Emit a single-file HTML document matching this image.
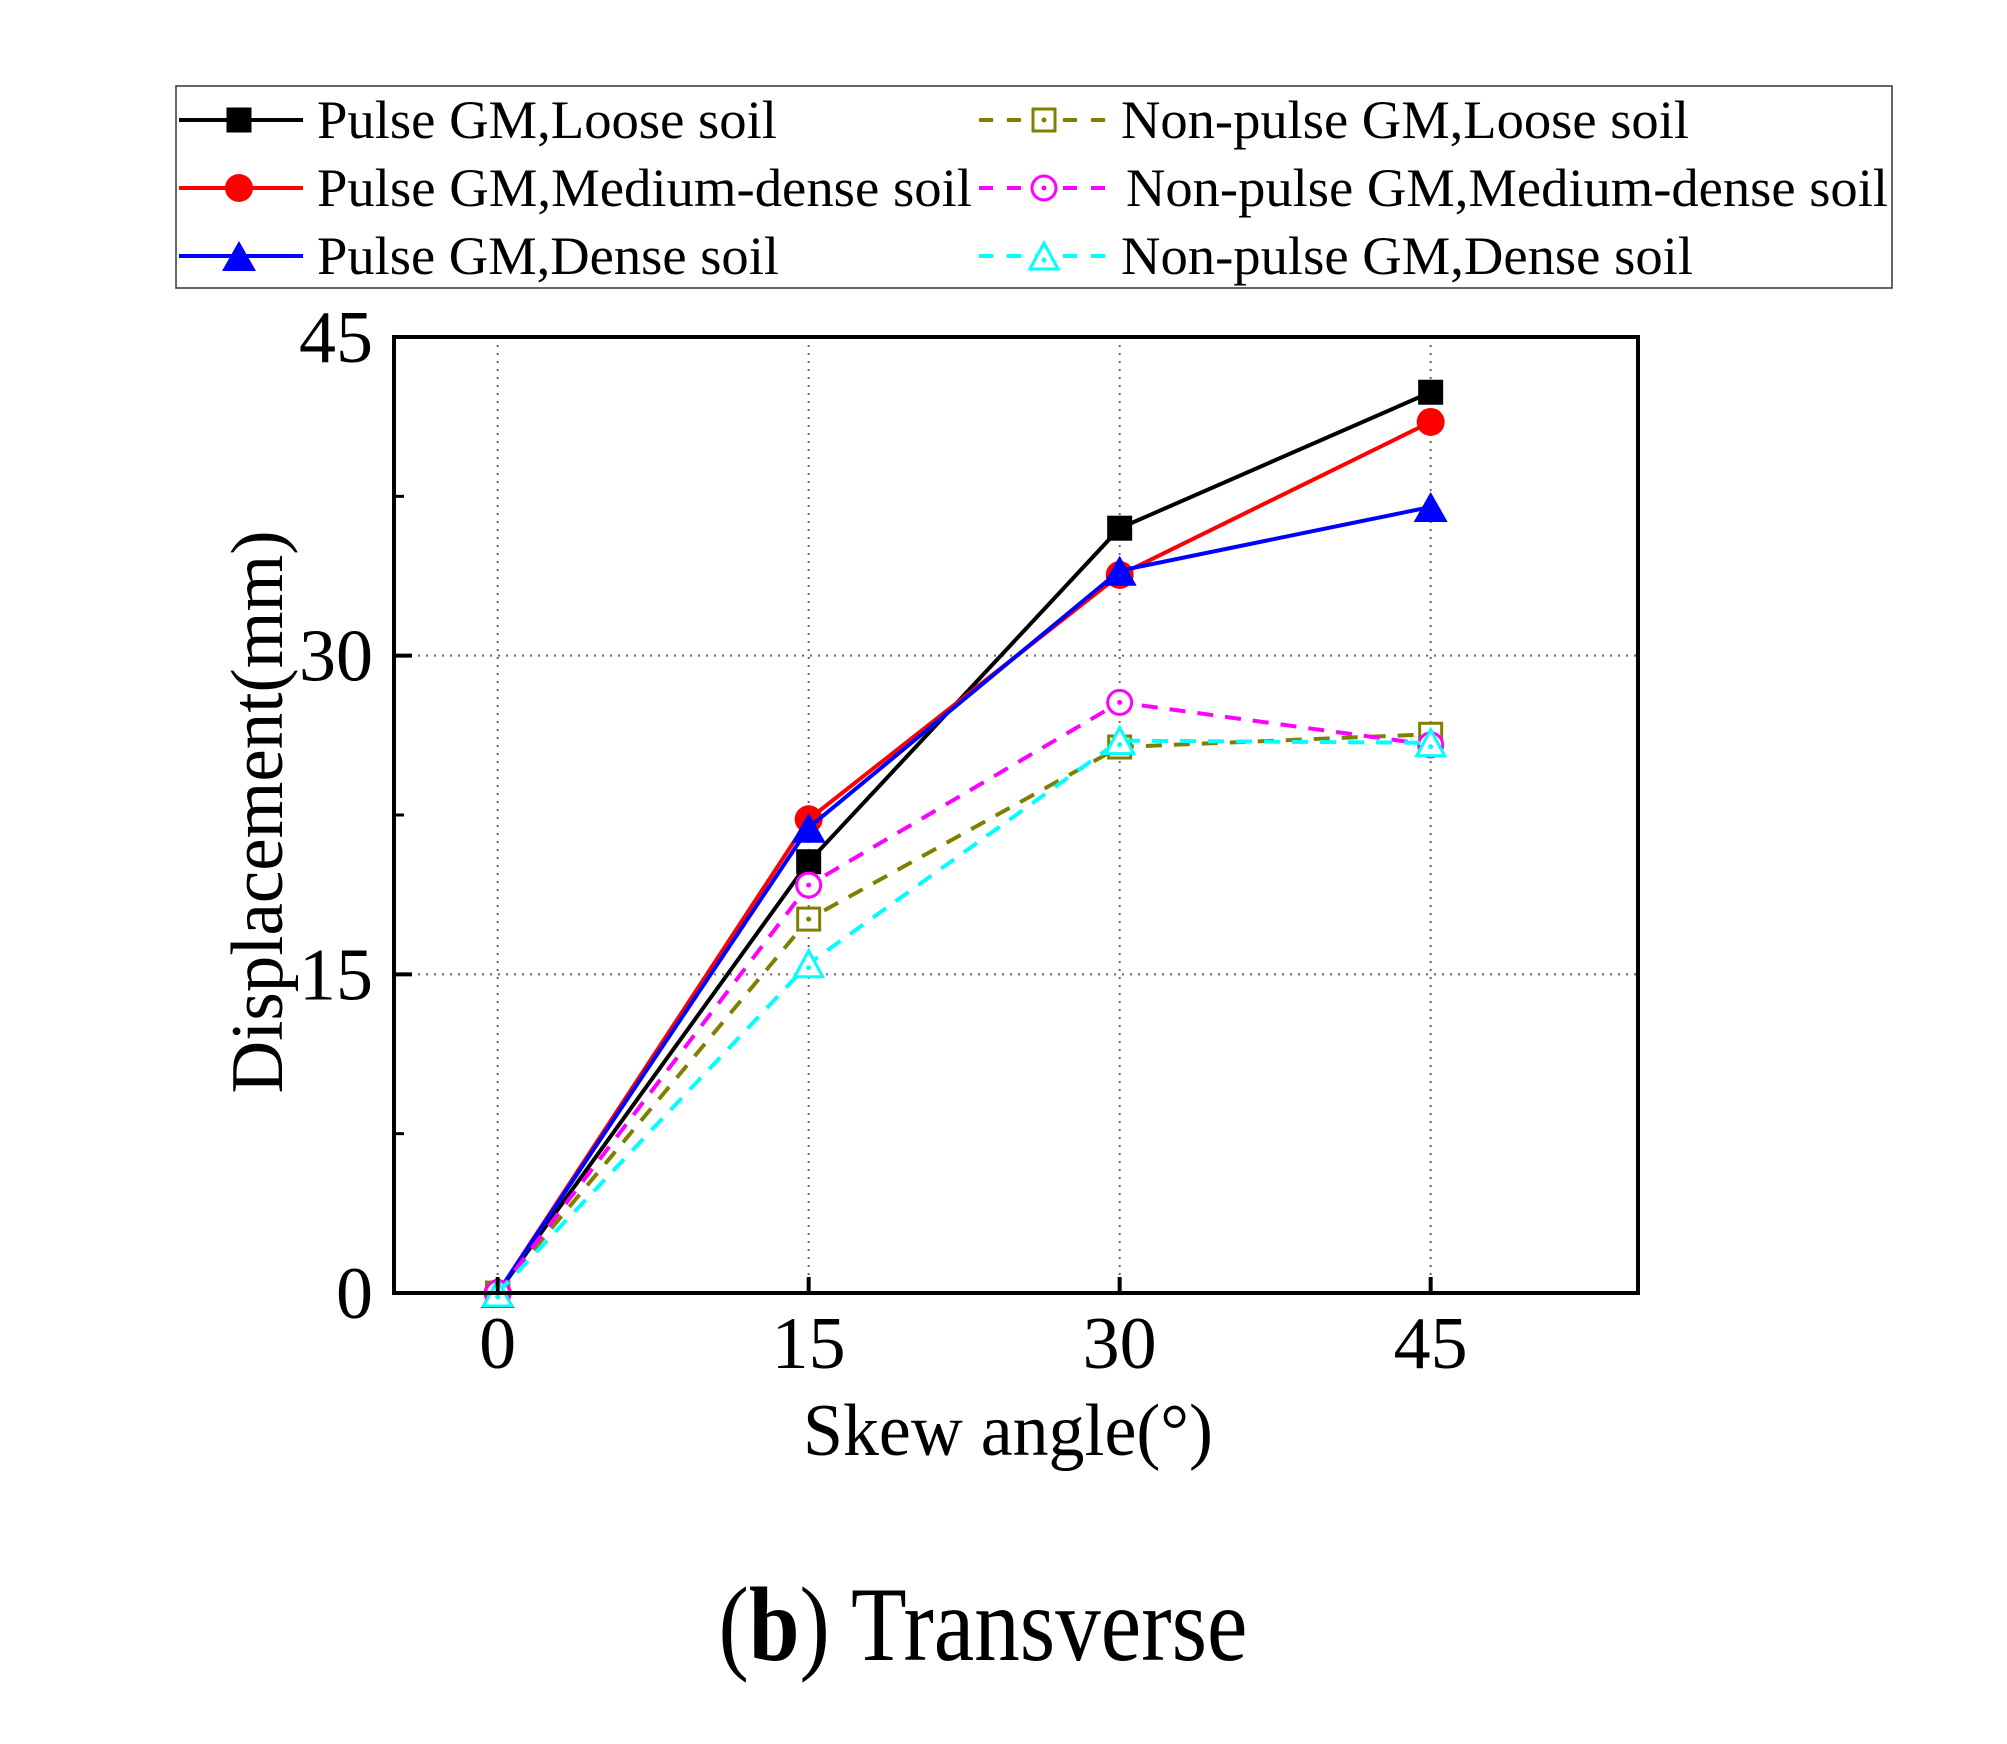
<!DOCTYPE html>
<html><head><meta charset="utf-8"><style>
html,body{margin:0;padding:0;background:#fff;}
svg{display:block;font-family:"Liberation Serif",serif;}
</style></head><body>
<svg id="chart" width="2007" height="1744" viewBox="0 0 2007 1744" xmlns="http://www.w3.org/2000/svg">
<g id="grid"></g>
<g id="series"></g>
<rect x="394" y="337" width="1244" height="956" fill="none" stroke="#000" stroke-width="4"/>
<g id="axes"></g>
<text x="1008" y="1455" font-size="74" text-anchor="middle" textLength="410" lengthAdjust="spacingAndGlyphs">Skew angle(°)</text>
<text transform="translate(282,812) rotate(-90)" font-size="74" text-anchor="middle" textLength="563" lengthAdjust="spacingAndGlyphs">Displacement(mm)</text>
<text x="983" y="1660" font-size="106" text-anchor="middle" textLength="529" lengthAdjust="spacingAndGlyphs">(<tspan font-weight="bold">b</tspan>) Transverse</text>
<rect x="176" y="86" width="1716" height="202" fill="#fff" stroke="#333" stroke-width="1.5"/>
<g id="legend"></g>
</svg>
<script>
const categories = [0, 15, 30, 45];
const seriesNames = ["Pulse GM,Loose soil","Pulse GM,Medium-dense soil","Pulse GM,Dense soil","Non-pulse GM,Loose soil","Non-pulse GM,Medium-dense soil","Non-pulse GM,Dense soil"];
const pulseLoose = [0, 20.3, 36.0, 42.4];
const pulseMedium = [0, 22.3, 33.8, 41.0];
const pulseDense = [0, 21.9, 34.0, 37.0];
const nonLoose = [0, 17.6, 25.7, 26.3];
const nonMedium = [0, 19.2, 27.8, 25.8];
const nonDense = [0, 15.5, 26.0, 25.9];
const yTicks = [0, 15, 30, 45];
const xTicks = [0, 15, 30, 45];

const NS = "http://www.w3.org/2000/svg";
const L=394,R=1638,T=337,B=1293, XMIN=-5, XMAX=55, YMIN=0, YMAX=45;
const xs = v => L + (v - XMIN) / (XMAX - XMIN) * (R - L);
const ys = v => B - (v - YMIN) / (YMAX - YMIN) * (B - T);
function mk(tag, attrs, parent){const e=document.createElementNS(NS,tag);for(const k in attrs)e.setAttribute(k,attrs[k]);parent.appendChild(e);return e;}
const grid=document.getElementById('grid'), axes=document.getElementById('axes'), ser=document.getElementById('series'), leg=document.getElementById('legend');

xTicks.forEach(v=>{
  const g=mk('line',{x1:xs(v),x2:xs(v),y1:T,y2:B,stroke:'#666','stroke-width':2,'stroke-dasharray':'2 6'},grid);
  
  
  const t=mk('line',{x1:xs(v),x2:xs(v),y1:B,y2:B-16,stroke:'#000','stroke-width':4},axes);
  
  
  const l=mk('text',{x:xs(v),y:1368,'font-size':74,'text-anchor':'middle'},axes);
  l.textContent=v;
  
  
});
yTicks.forEach(v=>{
  if(v>0&&v<45){const g=mk('line',{x1:L,x2:R,y1:ys(v),y2:ys(v),stroke:'#666','stroke-width':2,'stroke-dasharray':'2 6'},grid);
  
  }
  const t=mk('line',{x1:L,x2:L+18,y1:ys(v),y2:ys(v),stroke:'#000','stroke-width':4},axes);
  
  
  const l=mk('text',{x:373,y:ys(v)+25,'font-size':74,'text-anchor':'end'},axes);
  l.textContent=v;
  
  
});
[7.5,22.5,37.5].forEach(v=>{
  const t=mk('line',{x1:L,x2:L+10,y1:ys(v),y2:ys(v),stroke:'#000','stroke-width':3},axes);
  
  
});

const styles=[
 {d:pulseLoose,c:'#000',m:'square',fill:true,dash:null},
 {d:pulseMedium,c:'#ff0000',m:'circle',fill:true,dash:null},
 {d:pulseDense,c:'#0000ff',m:'triangle',fill:true,dash:null},
 {d:nonLoose,c:'#808000',m:'square',fill:false,dash:'16 12'},
 {d:nonMedium,c:'#ff00ff',m:'circle',fill:false,dash:'16 12'},
 {d:nonDense,c:'#00ffff',m:'triangle',fill:false,dash:'16 12'}
];
function marker(s,x,y,parent,name){
  const f=s.fill?s.c:'#fff', sw=s.fill?0:3;
  let e;
  if(s.m==='square'){const h=s.fill?12.5:11;e=mk('rect',{x:x-h,y:y-h,width:2*h,height:2*h,fill:f,stroke:s.c,'stroke-width':sw},parent);}
  else if(s.m==='circle'){e=mk('circle',{cx:x,cy:y,r:s.fill?14:12,fill:f,stroke:s.c,'stroke-width':sw},parent);}
  else{const w=s.fill?17:14,h=s.fill?15:13;e=mk('polygon',{points:`${x},${y-h} ${x+w},${y+h} ${x-w},${y+h}`,fill:f,stroke:s.c,'stroke-width':sw},parent);}
  
  
  if(!s.fill){const d=mk('circle',{cx:x,cy:y+(s.m==='triangle'?4:0),r:2.5,fill:s.c},parent);
    
    }
}
styles.forEach((s,i)=>{
  const pts=categories.map((c,j)=>xs(c)+','+ys(s.d[j])).join(' ');
  const a={points:pts,fill:'none',stroke:s.c,'stroke-width':4};
  if(s.dash)a['stroke-dasharray']=s.dash;
  const pl=mk('polyline',a,ser);
  
  
  categories.forEach((c,j)=>marker(s,xs(c),ys(s.d[j]),ser,'series-'+(i+1)+'-point'));
});
const rowsY=[120,188,256];
const widths=[460,655,462,568,762,572];
styles.forEach((s,i)=>{
  const col=i<3?0:1, y=rowsY[i%3];
  const x1=col?979:179, x2=col?1107:303, mx=col?1044:239, tx=col?(i===4?1126:1121):317;
  const a={x1:x1,x2:x2,y1:y,y2:y,stroke:s.c,'stroke-width':4};
  if(s.dash)a['stroke-dasharray']='14 14';
  const ln=mk('line',a,leg);
  
  
  marker(s,mx,y,leg,'legend-marker');
  const t=mk('text',{x:tx,y:y+18,'font-size':54,textLength:widths[i],lengthAdjust:'spacingAndGlyphs'},leg);
  t.textContent=seriesNames[i];
  
  
});
</script>
</body></html>
